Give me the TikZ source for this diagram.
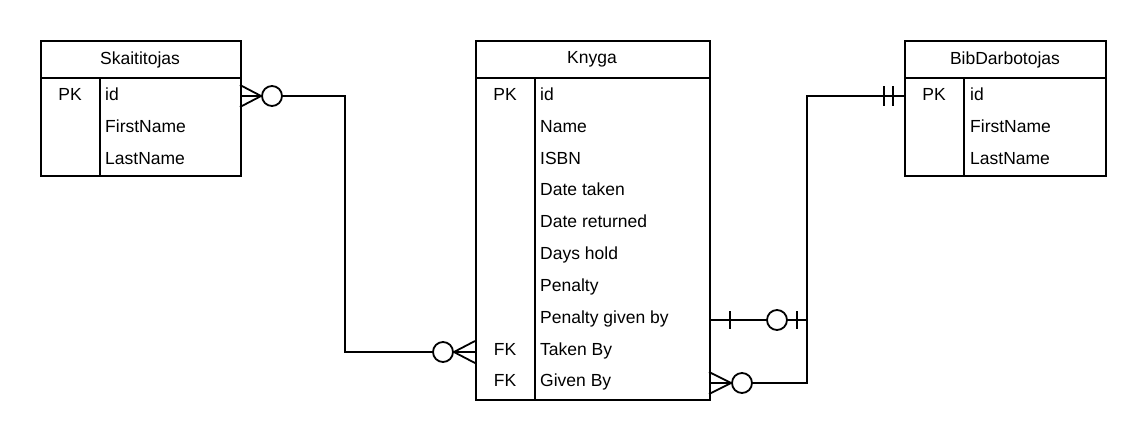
\documentclass[tikz,border=0pt]{standalone}
\usepackage{fontspec}
\setmainfont{Liberation Sans}
\begin{document}
\begin{tikzpicture}[x=1pt,y=-1pt,
  every node/.style={font=\fontsize{17.5}{20}\selectfont},
  ln/.style={line width=1.8pt, line join=miter},
  tbl/.style={draw, line width=1.8pt, inner sep=0pt, anchor=north west, fill=white},
  rowtxt/.style={anchor=base west, inner sep=0pt},
  keytxt/.style={anchor=base, inner sep=0pt},
  circ/.style={circle, draw, fill=white, line width=1.8pt, minimum size=20pt, inner sep=0pt}]
\useasboundingbox (0,0) rectangle (1147,440);

% tables
\node[tbl, minimum width=200pt, minimum height=135pt] (S) at (40,40) {};
\node[tbl, minimum width=234pt, minimum height=359pt] (K) at (475,40) {};
\node[tbl, minimum width=201pt, minimum height=135pt] (B) at (904,40) {};

\draw[ln] (40,78) -- (240,78) (100,78) -- (100,175);
\draw[ln] (475,78) -- (709,78) (535,78) -- (535,399);
\draw[ln] (904,78) -- (1105,78) (964,78) -- (964,175);

\node (Sh) at (140,59.5) {Skaititojas};
\node (Kh) at (592,59.5) {Knyga};
\node (Bh) at (1005,59.5) {BibDarbotojas};

% Skaititojas rows
\node[keytxt] (Spk) at (70,100.5) {PK};
\node[rowtxt] (S1) at (105,100.5) {id};
\node[rowtxt] (S2) at (105,132.5) {FirstName};
\node[rowtxt] (S3) at (105,164) {LastName};

% BibDarbotojas rows
\node[keytxt] (Bpk) at (934,100.5) {PK};
\node[rowtxt] (B1) at (970,100.5) {id};
\node[rowtxt] (B2) at (970,132.5) {FirstName};
\node[rowtxt] (B3) at (970,164) {LastName};

% Knyga rows
\node[keytxt] (Kpk) at (505,100.5) {PK};
\node[keytxt] (Kfk1) at (505,355) {FK};
\node[keytxt] (Kfk2) at (505,386.8) {FK};
\node[rowtxt] (K1) at (540,100.5) {id};
\node[rowtxt] (K2) at (540,132.3) {Name};
\node[rowtxt] (K3) at (540,164.1) {ISBN};
\node[rowtxt] (K4) at (540,195.9) {Date taken};
\node[rowtxt] (K5) at (540,227.7) {Date returned};
\node[rowtxt] (K6) at (540,259.5) {Days hold};
\node[rowtxt] (K7) at (540,291.3) {Penalty};
\node[rowtxt] (K8) at (540,323.1) {Penalty given by};
\node[rowtxt] (K9) at (540,355) {Taken By};
\node[rowtxt] (K10) at (540,386.8) {Given By};

% connector coordinates
\coordinate (sA) at (240,96);
\coordinate (sB) at (345,96);
\coordinate (sC) at (345,352);
\coordinate (kT) at (475,352);
\coordinate (kP) at (709,320);
\coordinate (vP) at (807,320);
\coordinate (kG) at (709,383);
\coordinate (vG) at (807,383);
\coordinate (vB) at (807,96);
\coordinate (bI) at (904,96);

% Skaititojas -- Knyga (Taken By)
\draw[ln] (sA) -- (sB) -- (sC) -- (kT);
\node[circ] (c1) at (272,96) {};
\draw[ln] (240,85) -- (c1.west) -- (240,107);
\node[circ] (c2) at (443,352) {};
\draw[ln] (475,341) -- (c2.east) -- (475,363);

% Penalty given by -- line
\draw[ln] (kP) -- (vP);
\draw[ln] (730,311) -- (730,329);
\node[circ] (c3) at (777,320) {};
\draw[ln] (797,311) -- (797,329);

% Given By -- BibDarbotojas
\draw[ln] (kG) -- (vG) -- (vB) -- (bI);
\node[circ] (c4) at (742,383) {};
\draw[ln] (709,372) -- (c4.west) -- (709,394);
\draw[ln] (884,86) -- (884,106) (893,86) -- (893,106);
\end{tikzpicture}
\end{document}
